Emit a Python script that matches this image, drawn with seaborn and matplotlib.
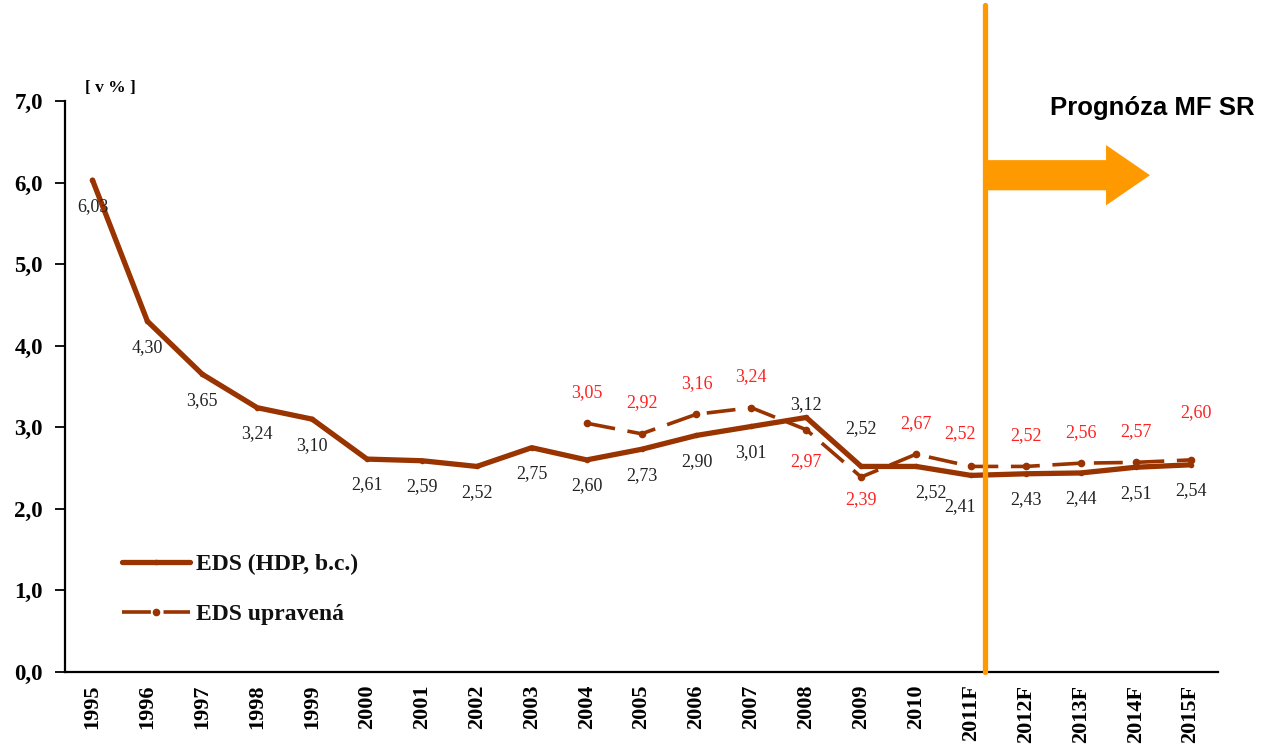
import numpy as np
import pandas as pd
import matplotlib
matplotlib.use("Agg")
import matplotlib.pyplot as plt
from matplotlib.patches import FancyArrow
import seaborn as sns

years = ["1995", "1996", "1997", "1998", "1999", "2000", "2001", "2002", "2003",
         "2004", "2005", "2006", "2007", "2008", "2009", "2010",
         "2011F", "2012F", "2013F", "2014F", "2015F"]
eds = [6.03, 4.30, 3.65, 3.24, 3.10, 2.61, 2.59, 2.52, 2.75, 2.60, 2.73, 2.90,
       3.01, 3.12, 2.52, 2.52, 2.41, 2.43, 2.44, 2.51, 2.54]
adj_years = ["2004", "2005", "2006", "2007", "2008", "2009", "2010",
             "2011F", "2012F", "2013F", "2014F", "2015F"]
eds_adj = [3.05, 2.92, 3.16, 3.24, 2.97, 2.39, 2.67, 2.52, 2.52, 2.56, 2.57, 2.60]
yticks = [0, 1, 2, 3, 4, 5, 6, 7]

# label offsets in pixels (dx, dy) relative to the point
eds_off = {"2008": (0, 13), "2009": (0, 38), "2010": (15, -26), "2011F": (-11, -31)}
adj_off = {"2008": (0, -32), "2009": (0, -23), "2015F": (5, 47), "2011F": (-11, 33)}

sns.set_style("white")
plt.rcParams["font.family"] = ["Liberation Serif", "DejaVu Serif"]
plt.rcParams["text.color"] = "black"
plt.rcParams["xtick.color"] = "black"
plt.rcParams["ytick.color"] = "black"

brown = "#993300"
orange = "#FF9900"

df1 = pd.DataFrame({"year": years, "val": eds})
df2 = pd.DataFrame({"year": adj_years, "val": eds_adj})

fig = plt.figure(figsize=(12.63, 7.48), dpi=100)
ax = fig.add_axes([0.0515, 0.1016, 0.9129, 0.7634])

sns.lineplot(data=df1, x="year", y="val", ax=ax, color=brown, lw=3.8,
             marker="o", markersize=4, markeredgewidth=0, sort=False,
             label="EDS (HDP, b.c.)")
sns.lineplot(data=df2, x="year", y="val", ax=ax, color=brown, lw=2.6,
             marker="o", markersize=5.5, markeredgewidth=0, sort=False,
             dashes=False, label="EDS upravená")
ax.lines[1].set_dashes([8, 3.5])

ax.set_xlim(-0.5, len(years) - 0.5)
ax.set_ylim(0, 7)
ax.set_yticks(yticks)
ax.set_yticklabels([f"{v:.1f}".replace(".", ",") for v in yticks],
                   fontsize=16.5, fontweight="bold")
ax.set_xticks(range(len(years)))
ax.set_xticklabels(years, rotation=90, fontsize=16, fontweight="bold")
ax.set_xticks(np.arange(-0.5, len(years), 1.0), minor=True)
ax.tick_params(axis="x", which="major", length=0, pad=9)
ax.tick_params(axis="x", which="minor", length=6, width=1.3, color="black", direction="out")
ax.tick_params(axis="y", length=7, width=1.3, color="black", direction="out", pad=9, left=True)
ax.set_xlabel("")
ax.set_ylabel("")
for s in ["top", "right"]:
    ax.spines[s].set_visible(False)
for s in ["left", "bottom"]:
    ax.spines[s].set_color("black")
    ax.spines[s].set_linewidth(1.6)

# data labels
for i, (yr, v) in enumerate(zip(years, eds)):
    dx, dy = eds_off.get(yr, (0, -26))
    ax.annotate(f"{v:.2f}".replace(".", ","), (i, v), xytext=(dx, dy),
                textcoords="offset pixels", ha="center", va="center",
                fontsize=13, color="#222222")
for yr, v in zip(adj_years, eds_adj):
    i = years.index(yr)
    dx, dy = adj_off.get(yr, (0, 31))
    ax.annotate(f"{v:.2f}".replace(".", ","), (i, v), xytext=(dx, dy),
                textcoords="offset pixels", ha="center", va="center",
                fontsize=13, color="#FF2020")

# forecast marker
xv = years.index("2011F") + 0.25
ax.plot([xv, xv], [0, 8.18], color=orange, lw=3.8, clip_on=False, zorder=5)
arrow = FancyArrow(xv, 6.09, 19.26 - xv, 0, width=0.37, head_width=0.74,
                   head_length=0.8, length_includes_head=True,
                   color=orange, clip_on=False, zorder=5, lw=0)
ax.add_patch(arrow)
fig.text(1050 / 1263, 1 - 108 / 748, "Prognóza MF SR", family="Liberation Sans",
         fontweight="bold", fontsize=18.5, ha="left", va="center", color="black")
fig.text(110 / 1263, 1 - 88 / 748, "[ v % ]", fontsize=12.5, fontweight="bold",
         ha="center", va="center", color="black")

leg = ax.legend(loc="center left", bbox_to_anchor=(0.049, 0.145), frameon=False,
                handlelength=2.9, labelspacing=1.2, borderpad=0, borderaxespad=0,
                prop={"size": 17, "weight": "bold"}, handletextpad=0.25)
for t in leg.get_texts():
    t.set_color("#111111")

fig.savefig("out.png", dpi=100)
